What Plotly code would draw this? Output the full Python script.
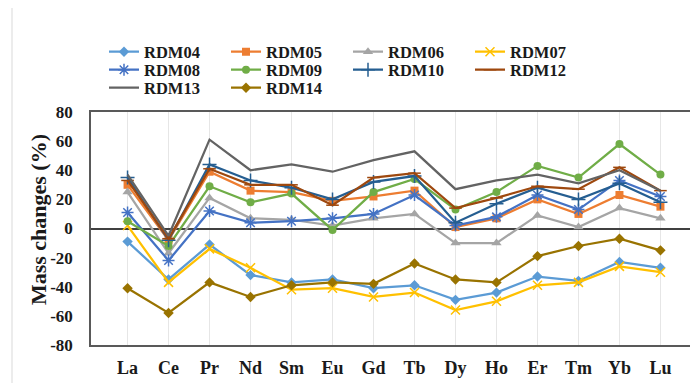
import plotly.graph_objects as go

elements = ["La", "Ce", "Pr", "Nd", "Sm", "Eu", "Gd", "Tb", "Dy", "Ho", "Er", "Tm", "Yb", "Lu"]

RDM04 = [-9, -35, -11, -32, -37, -35, -41, -39, -49, -44, -33, -36, -23, -27]
RDM05 = [30, -8, 39, 26, 25, 19, 22, 26, 1, 7, 20, 10, 23, 15]
RDM06 = [25, -17, 21, 7, 6, 2, 7, 10, -10, -10, 9, 1, 14, 7]
RDM07 = [2, -37, -14, -27, -42, -41, -47, -44, -56, -50, -39, -37, -26, -30]
RDM08 = [11, -22, 12, 4, 5, 7, 10, 23, 2, 8, 23, 13, 33, 22]
RDM09 = [5, -12, 29, 18, 24, -1, 25, 34, 13, 25, 43, 35, 58, 37]
RDM10 = [35, -8, 44, 33, 28, 20, 32, 36, 4, 17, 28, 20, 31, 18]
RDM12 = [33, -7, 41, 30, 30, 16, 35, 38, 14, 21, 29, 27, 42, 26]
RDM13 = [37, -5, 61, 40, 44, 39, 47, 53, 27, 33, 37, 31, 40, 26]
RDM14 = [-41, -58, -37, -47, -39, -37, -38, -24, -35, -37, -19, -12, -7, -15]

y_ticks = [-80, -60, -40, -20, 0, 20, 40, 60, 80]
y_title = "Mass changes (%)"

FONT = "Liberation Serif, Times New Roman, serif"

series = [
    ("RDM04", RDM04, "#5B9BD5", "diamond", 8, "legend"),
    ("RDM05", RDM05, "#ED7D31", "square", 8, "legend"),
    ("RDM06", RDM06, "#A5A5A5", "triangle-up", 9, "legend"),
    ("RDM07", RDM07, "#FFC000", "x-thin", 9, "legend"),
    ("RDM08", RDM08, "#4472C4", "asterisk", 10, "legend2"),
    ("RDM09", RDM09, "#70AD47", "circle", 8, "legend2"),
    ("RDM10", RDM10, "#255E91", "cross-thin", 10, "legend2"),
    ("RDM12", RDM12, "#9E480E", "line-ew", 9, "legend2"),
    ("RDM13", RDM13, "#636363", None, 0, "legend3"),
    ("RDM14", RDM14, "#997300", "diamond", 8, "legend3"),
]

fig = go.Figure()
for name, vals, color, sym, size, lg in series:
    if sym is None:
        mode = "lines"
        marker = dict()
    else:
        mode = "lines+markers"
        thin = sym in ("x-thin", "cross-thin", "asterisk", "line-ew")
        marker = dict(symbol=sym, size=size, color=color,
                      line=dict(color=color, width=1.5 if thin else 0))
    fig.add_trace(go.Scatter(
        x=elements, y=vals, name=name, mode=mode,
        line=dict(color=color, width=2.25),
        marker=marker, legend=lg,
    ))

W, H = 690, 375  # page body has an 8px margin

legend_common = dict(
    orientation="h", xref="container", yref="container",
    x=96 / W, xanchor="left", yanchor="middle",
    entrywidth=77, entrywidthmode="pixels",
    font=dict(family=FONT, size=16.5, color="#1a1a1a", weight="bold"),
    bgcolor="rgba(0,0,0,0)", borderwidth=0,
    itemclick=False, itemdoubleclick=False,
)

fig.update_layout(
    width=W, height=H,
    margin=dict(l=83, r=1, t=104, b=38, autoexpand=False),
    paper_bgcolor="white", plot_bgcolor="white",
    showlegend=True,
    legend=dict(legend_common, y=1 - 44 / H),
    legend2=dict(legend_common, y=1 - 62 / H),
    legend3=dict(legend_common, y=1 - 80 / H),
    font=dict(family=FONT, color="#1a1a1a"),
    xaxis=dict(
        type="category", categoryorder="array", categoryarray=elements,
        showgrid=True, gridcolor="#E6E6E6", gridwidth=1,
        showline=True, linecolor="#595959", linewidth=1.5, mirror=True,
        ticks="", tickfont=dict(family=FONT, size=18, color="#1a1a1a", weight="bold"),
        ticklabelstandoff=6, zeroline=False,
    ),
    yaxis=dict(
        range=[-80, 80], tickvals=y_ticks, ticktext=[str(v) for v in y_ticks],
        showgrid=False,
        showline=True, linecolor="#595959", linewidth=1.5, mirror=True,
        zeroline=True, zerolinecolor="#404040", zerolinewidth=1.5,
        ticks="", tickfont=dict(family=FONT, size=17, color="#1a1a1a", weight="bold"),
        ticklabelstandoff=13,
    ),
    annotations=[dict(
        text=y_title, textangle=-90, showarrow=False,
        xref="paper", yref="paper", x=(30 - 83) / 606, y=0.536,
        xanchor="center", yanchor="middle",
        font=dict(family=FONT, size=22, color="#1a1a1a", weight="bold"),
    )],
    shapes=[dict(type="line", xref="paper", yref="paper",
                 x0=(4 - 83) / 606, x1=(4 - 83) / 606, y0=-38 / 233, y1=1 + 104 / 233,
                 line=dict(color="#D9D9D9", width=1))],
)

fig.write_html("out.html")
